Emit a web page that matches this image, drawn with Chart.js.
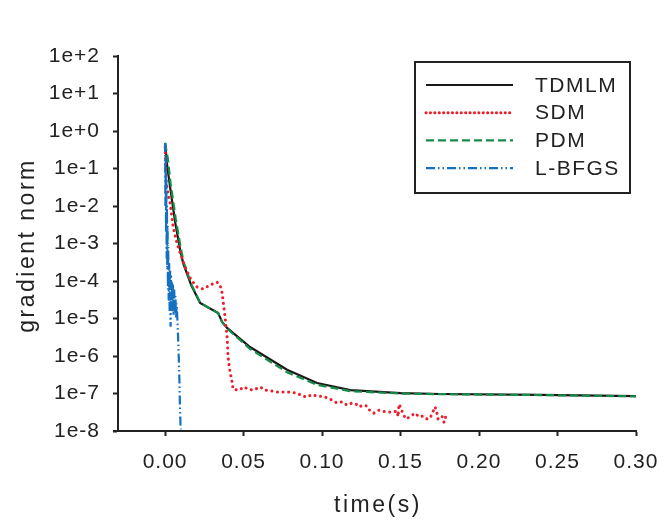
<!DOCTYPE html>
<html>
<head>
<meta charset="utf-8">
<script src="https://cdn.jsdelivr.net/npm/chart.js@4.4.1/dist/chart.umd.min.js"></script>
<style>
  html, body { margin: 0; padding: 0; background: #ffffff; }
  #wrap { width: 664px; height: 524px; }
</style>
</head>
<body>
<div id="wrap"><canvas id="c" width="664" height="524"></canvas></div>
<script>
// ---------- data ----------
const xTickValues = [0, 0.05, 0.10, 0.15, 0.20, 0.25, 0.30];
const xTickLabels = ['0.00', '0.05', '0.10', '0.15', '0.20', '0.25', '0.30'];
const yTickValues = [1e-8, 1e-7, 1e-6, 1e-5, 1e-4, 1e-3, 1e-2, 1e-1, 1e0, 1e1, 1e2];
const yTickLabels = ['1e-8', '1e-7', '1e-6', '1e-5', '1e-4', '1e-3', '1e-2', '1e-1', '1e+0', '1e+1', '1e+2'];

const seriesNames = ['TDMLM', 'SDM', 'PDM', 'L-BFGS'];

const tdmlmT = [0, 0.0013, 0.0032, 0.0064, 0.0096, 0.0115, 0.0166, 0.0223, 0.0338, 0.0363, 0.0395, 0.0541, 0.0777, 0.0968, 0.118, 0.150, 0.175, 0.239, 0.300];
const tdmlmV = [0.48, 0.12, 0.032, 0.0037, 6.7e-4, 3.0e-4, 7.8e-5, 2.6e-5, 1.4e-5, 8.1e-6, 5.6e-6, 1.74e-6, 4.3e-7, 1.9e-7, 1.23e-7, 1.02e-7, 9.7e-8, 9.2e-8, 8.5e-8];

const pdmT = [0, 0.0016, 0.0035, 0.0068, 0.0100, 0.0118, 0.0168, 0.0224, 0.0338, 0.0363, 0.0395, 0.0541, 0.0777, 0.0968, 0.118, 0.150, 0.175, 0.239, 0.300];
const pdmV = [0.48, 0.2, 0.04, 0.0045, 7.5e-4, 3.2e-4, 8.0e-5, 2.6e-5, 1.4e-5, 8.1e-6, 5.4e-6, 1.55e-6, 3.7e-7, 1.7e-7, 1.15e-7, 1.0e-7, 9.6e-8, 9.1e-8, 8.4e-8];

const sdmT = [0, 0.0006, 0.0019, 0.0032, 0.0051, 0.0076, 0.0096, 0.0127, 0.0166, 0.0204, 0.0242, 0.0287, 0.0331, 0.0350, 0.0363, 0.0382, 0.0395, 0.0401, 0.0414, 0.0427, 0.0433,
  0.0471, 0.0503, 0.0529, 0.0561, 0.0605, 0.0637, 0.0675, 0.0713, 0.0752, 0.0796, 0.0841, 0.0879, 0.0904, 0.0936, 0.0968, 0.1006,
  0.1051, 0.1096, 0.1127, 0.1159, 0.1191, 0.1217, 0.1236, 0.1261, 0.1287, 0.1306, 0.1331, 0.1363, 0.1408, 0.1446, 0.1478, 0.1484, 0.1490, 0.1503,
  0.1516, 0.1535, 0.1561, 0.1592, 0.1618, 0.1643, 0.1669, 0.1688, 0.1720, 0.1732, 0.1739, 0.1764, 0.1777, 0.1790];
const sdmV = [0.37, 0.049, 0.0195, 0.012, 2.8e-3, 1.0e-3, 5.6e-4, 2.35e-4, 1.07e-4, 6.9e-5, 6.1e-5, 7.8e-5, 9.3e-5, 7.8e-5, 4.8e-5, 1.1e-5, 3.2e-6, 9.4e-7, 3.7e-7, 2.0e-7, 1.3e-7,
  1.23e-7, 1.5e-7, 1.3e-7, 1.23e-7, 1.5e-7, 1.23e-7, 1.17e-7, 1.1e-7, 1.1e-7, 1.1e-7, 1.02e-7, 8.5e-8, 8.1e-8, 9.4e-8, 8.5e-8, 8.5e-8,
  7.1e-8, 5.6e-8, 6.0e-8, 4.9e-8, 5.6e-8, 5.2e-8, 4.4e-8, 4.9e-8, 4.6e-8, 3.4e-8, 3.0e-8, 3.6e-8, 3.2e-8, 3.2e-8, 3.4e-8, 2.4e-8, 5.2e-8, 4.1e-8,
  2.8e-8, 2.1e-8, 2.4e-8, 3.0e-8, 2.4e-8, 2.5e-8, 2.1e-8, 2.2e-8, 4.4e-8, 3.0e-8, 2.1e-8, 2.5e-8, 1.7e-8, 2.6e-8];

const lbfgsT = [0, 0.0002, 0.0004, 0.0006, 0.0008, 0.0010, 0.0012, 0.0014, 0.0016, 0.0018, 0.0020, 0.0023, 0.0026, 0.0029, 0.0032, 0.0035, 0.0038, 0.0041, 0.0044, 0.0047,
  0.0050, 0.0054, 0.0058, 0.0062, 0.0066, 0.0070, 0.0074, 0.0078, 0.0083, 0.0090, 0.0094, 0.0098, 0.0102];
const lbfgsV = [0.48, 0.01, 0.2, 0.002, 0.05, 4e-4, 0.01, 2e-4, 3e-3, 6e-5, 8e-4, 3e-5, 3e-4, 1.5e-5, 2e-4, 6e-6, 1.5e-4, 2e-5, 1e-4, 1.5e-5,
  8e-5, 1.2e-5, 6e-5, 1.5e-5, 4e-5, 1e-5, 2.5e-5, 1e-5, 3e-6, 4e-7, 6e-8, 1.5e-8, 1.1e-8];

function pts(t, v) { return t.map((x, i) => ({ x: x, y: v[i] })); }

// ---------- chart ----------
Chart.defaults.font.family = '"Liberation Sans", Arial, sans-serif';
Chart.defaults.color = '#222222';

const AXIS = '#222222';

const textPlugin = {
  id: 'textPlugin',
  beforeDraw(chart) {
    chart.ctx.letterSpacing = '1px';
  },
  afterDraw(chart) {
    const ctx = chart.ctx;
    const ca = chart.chartArea;
    ctx.save();
    // small extension of x axis to the left
    ctx.strokeStyle = AXIS;
    ctx.lineWidth = 2;
    ctx.beginPath();
    ctx.moveTo(ca.left - 5, ca.bottom);
    ctx.lineTo(ca.left, ca.bottom);
    ctx.stroke();

    // axis titles
    ctx.fillStyle = '#222222';
    ctx.font = '23px "Liberation Sans", Arial, sans-serif';
    ctx.letterSpacing = '2.5px';
    ctx.textAlign = 'center';
    ctx.textBaseline = 'middle';
    ctx.fillText('time(s)', (ca.left + ca.right) / 2 + 1, 506);
    ctx.save();
    ctx.translate(28, (ca.top + ca.bottom) / 2 + 2);
    ctx.rotate(-Math.PI / 2);
    ctx.fillText('gradient norm', 0, 0);
    ctx.restore();

    // legend
    const bx = ca.right - 221, by = ca.top + 6, bw = 215, bh = 131;
    ctx.lineWidth = 2;
    ctx.strokeStyle = '#222222';
    ctx.strokeRect(bx, by, bw, bh);
    ctx.font = '21px "Liberation Sans", Arial, sans-serif';
    ctx.letterSpacing = '1.5px';
    ctx.textAlign = 'left';
    chart.data.datasets.forEach((ds, i) => {
      const idx = seriesNames.indexOf(ds.label);
      const y = by + 23 + idx * 27.7;
      ctx.save();
      ctx.strokeStyle = ds.borderColor;
      ctx.lineWidth = ds.borderWidth;
      ctx.setLineDash(ds.label === 'SDM' ? [0.1, 4.3] : (ds.borderDash || []));
      ctx.lineCap = ds.borderCapStyle || 'butt';
      ctx.beginPath();
      ctx.moveTo(bx + 11, y);
      ctx.lineTo(bx + 98, y);
      ctx.stroke();
      ctx.restore();
      ctx.fillStyle = '#222222';
      ctx.fillText(ds.label, bx + 120, y + 1);
    });
    ctx.restore();
  }
};

new Chart(document.getElementById('c'), {
  type: 'line',
  data: {
    datasets: [
      { label: seriesNames[3], data: pts(lbfgsT, lbfgsV), borderColor: 'rgb(20,112,192)', borderWidth: 2.2,
        borderDash: [9, 3, 1.5, 3, 1.5, 3], order: 0 },
      { label: seriesNames[1], data: pts(sdmT, sdmV), borderColor: 'rgb(236,30,42)', borderWidth: 3,
        borderDash: [0.1, 5.5], borderCapStyle: 'round', order: 1 },
      { label: seriesNames[0], data: pts(tdmlmT, tdmlmV), borderColor: '#1a1a1a', borderWidth: 2.2, order: 3 },
      { label: seriesNames[2], data: pts(pdmT, pdmV), borderColor: 'rgb(22,140,72)', borderWidth: 2.2,
        borderDash: [8, 4], order: 2 }
    ]
  },
  options: {
    responsive: false,
    animation: false,
    events: [],
    parsing: true,
    elements: { point: { radius: 0 }, line: { tension: 0, fill: false } },
    layout: { padding: { left: 0, top: 56, right: 28, bottom: 0 } },
    plugins: { legend: { display: false }, tooltip: { enabled: false }, title: { display: false } },
    scales: {
      x: {
        type: 'linear',
        min: -0.03,
        max: 0.30,
        afterBuildTicks(scale) { scale.ticks = xTickValues.map(v => ({ value: v })); },
        afterFit(scale) { scale.height = 93; scale.paddingLeft = 0; scale.paddingRight = 0; },
        ticks: {
          callback: (v, i) => xTickLabels[i],
          font: { size: 21 },
          color: '#222222',
          padding: 14,
          maxRotation: 0,
          autoSkip: false
        },
        grid: { display: true, drawOnChartArea: false, drawTicks: true, tickLength: 5, tickWidth: 2, tickColor: AXIS },
        border: { display: true, color: AXIS, width: 2 }
      },
      y: {
        type: 'logarithmic',
        min: 1e-8,
        max: 1e2,
        afterBuildTicks(scale) { scale.ticks = yTickValues.map(v => ({ value: v })); },
        afterFit(scale) { scale.width = 118; scale.paddingTop = 0; scale.paddingBottom = 0; },
        ticks: {
          callback: (v, i) => yTickLabels[i],
          font: { size: 21 },
          color: '#222222',
          padding: 13,
          autoSkip: false
        },
        grid: { display: true, drawOnChartArea: false, drawTicks: true, tickLength: 5, tickWidth: 2, tickColor: AXIS },
        border: { display: true, color: AXIS, width: 2 }
      }
    }
  },
  plugins: [textPlugin]
});
</script>
</body>
</html>
